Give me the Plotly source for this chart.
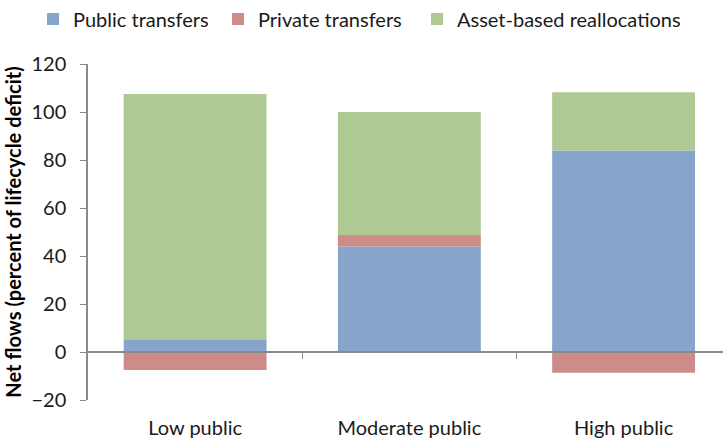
import plotly.graph_objects as go

categories = ["Low public", "Moderate public", "High public"]
public_transfers = [5.0, 44.0, 84.0]
private_transfers = [-7.5, 4.8, -8.6]
asset_reallocations = [102.5, 51.2, 24.2]
y_ticks = [-20, 0, 20, 40, 60, 80, 100, 120]

FONT = "Lato"
TXT = "#1a1a1a"
AX = "#8a8a8a"
colors = {"pub": "#87A4CB", "priv": "#CD8B8A", "asset": "#AFC995"}

fig = go.Figure()
fig.add_trace(go.Bar(name="Public transfers", x=categories, y=public_transfers, legend="legend",
                     marker=dict(color=colors["pub"], line=dict(width=0))))
fig.add_trace(go.Bar(name="Private transfers", x=categories, y=private_transfers, legend="legend2",
                     marker=dict(color=colors["priv"], line=dict(width=0))))
fig.add_trace(go.Bar(name="Asset-based reallocations", x=categories, y=asset_reallocations,
                     legend="legend3",
                     marker=dict(color=colors["asset"], line=dict(width=0))))
# invisible trace for the secondary x-axis carrying the category-boundary ticks
fig.add_trace(go.Scatter(x=[0], y=[0], xaxis="x2", mode="markers",
                         marker=dict(opacity=0), showlegend=False, hoverinfo="skip"))

W, H = 723, 439
def leg(xpx):
    return dict(orientation="h", x=xpx / W, xref="container", xanchor="left",
                y=1 - 19 / H, yref="container", yanchor="middle",
                font=dict(family=FONT, size=20, color=TXT), itemwidth=30,
                bgcolor="rgba(0,0,0,0)")

fig.update_layout(
    width=W, height=H,
    margin=dict(l=88, r=0, t=64, b=39, autoexpand=False),
    barmode="relative",
    bargap=0.333,
    plot_bgcolor="white", paper_bgcolor="white",
    font=dict(family=FONT, size=20, color=TXT),
    legend=leg(33), legend2=leg(218), legend3=leg(417),
    xaxis=dict(type="category", range=[-0.5, 2.464], showline=False, showgrid=False,
               zeroline=False, ticks="outside", ticklen=10, tickcolor="rgba(0,0,0,0)",
               automargin=False,
               tickfont=dict(family=FONT, size=20, color=TXT)),
    xaxis2=dict(overlaying="x", anchor="free", position=20 / 140, range=[-0.5, 2.464],
                showline=True, linecolor=AX, linewidth=1.5,
                tickmode="array", tickvals=[0.5, 1.5], ticks="outside", ticklen=6,
                tickcolor=AX, showticklabels=False, showgrid=False, zeroline=False),
    yaxis=dict(range=[-20, 120], tickvals=y_ticks, showgrid=False, zeroline=False,
               showline=True, linecolor=AX, linewidth=1.5, ticks="outside",
               ticklen=6, tickcolor=AX, ticklabelstandoff=10, automargin=False,
               tickfont=dict(family=FONT, size=20, color=TXT),
               title=dict(text="<b>Net flows (percent of lifecycle deficit)</b>",
                          font=dict(family=FONT, size=20, color="#000000"), standoff=4)),
)

fig.write_html("out.html", config={"displayModeBar": False},
               post_script="document.body.style.margin='0';document.body.style.overflow='hidden';")
